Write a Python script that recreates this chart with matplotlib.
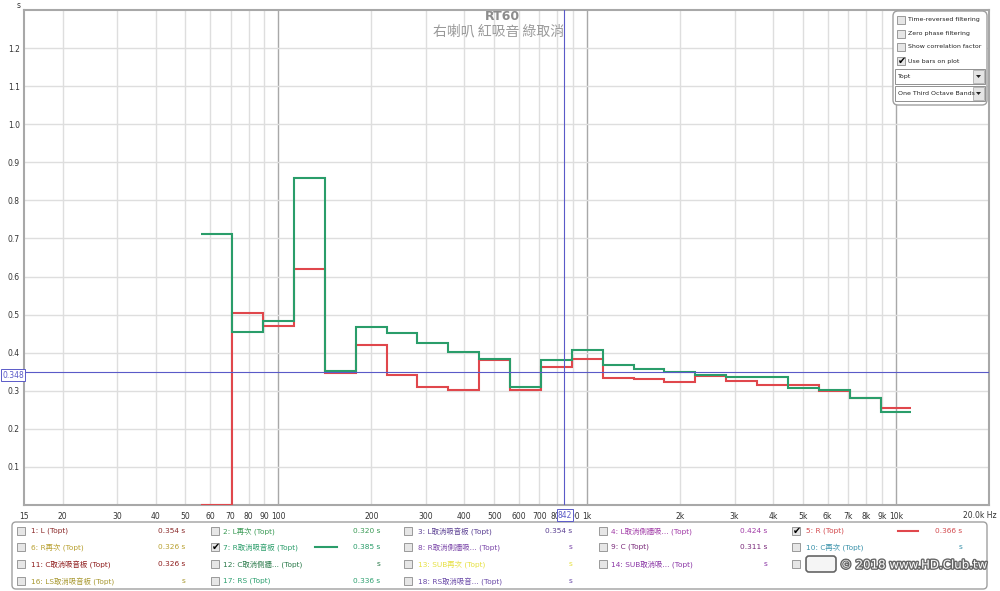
import numpy as np
import matplotlib
matplotlib.use("Agg")
import matplotlib.pyplot as plt
from matplotlib.patches import Rectangle, FancyBboxPatch, Polygon
from matplotlib.transforms import IdentityTransform
import matplotlib.patheffects as pe

plt.rcParams['font.family'] = ['DejaVu Sans', 'Noto Sans CJK TC']

# ---------------- data ----------------
band_centers_hz = [63, 80, 100, 125, 160, 200, 250, 315, 400, 500, 630, 800,
                   1000, 1250, 1600, 2000, 2500, 3150, 4000, 5000, 6300, 8000, 10000]
rt60_red = [0.0, 0.505, 0.471, 0.619, 0.346, 0.419, 0.341, 0.309, 0.303, 0.381,
            0.303, 0.363, 0.384, 0.334, 0.332, 0.323, 0.339, 0.325, 0.316, 0.316,
            0.300, 0.280, 0.254]
rt60_green = [0.711, 0.455, 0.482, 0.859, 0.353, 0.467, 0.451, 0.425, 0.401, 0.383,
              0.309, 0.382, 0.408, 0.367, 0.356, 0.349, 0.341, 0.337, 0.337, 0.306,
              0.302, 0.280, 0.244]
cursor_value = 0.348
cursor_freq = 842

x_ticks = [15, 20, 30, 40, 50, 60, 70, 80, 90, 100, 200, 300, 400, 500, 600, 700, 800, 900,
           1000, 2000, 3000, 4000, 5000, 6000, 7000, 8000, 9000, 10000]
x_tick_labels = ['15', '20', '30', '40', '50', '60', '70', '80', '90', '100', '200', '300',
                 '400', '500', '600', '700', '800', '900', '1k', '2k', '3k', '4k', '5k', '6k',
                 '7k', '8k', '9k', '10k']
x_end_label = '20.0k Hz'
y_ticks = [0.1, 0.2, 0.3, 0.4, 0.5, 0.6, 0.7, 0.8, 0.9, 1.0, 1.1, 1.2]

legend_labels = [
    ['1: L (Topt)', '2: L再次 (Topt)', '3: L取消吸音板 (Topt)', '4: L取消側牆吸... (Topt)', '5: R (Topt)'],
    ['6: R再次 (Topt)', '7: R取消吸音板 (Topt)', '8: R取消側牆吸... (Topt)', '9: C (Topt)', '10: C再次 (Topt)'],
    ['11: C取消吸音板 (Topt)', '12: C取消側牆... (Topt)', '13: SUB再次 (Topt)', '14: SUB取消吸... (Topt)', ''],
    ['16: LS取消吸音板 (Topt)', '17: RS (Topt)', '18: RS取消吸音... (Topt)', None, None],
]
legend_values = [
    ['0.354 s', '0.320 s', '0.354 s', '0.424 s', '0.366 s'],
    ['0.326 s', '0.385 s', 's', '0.311 s', 's'],
    ['0.326 s', 's', 's', 's', ''],
    ['s', '0.336 s', 's', None, None],
]
legend_colors = [
    ['#8b2a2a', '#3a9a55', '#5a3f92', '#a03aa6', '#d34a4e'],
    ['#b8a030', '#2a9d6a', '#7a45a8', '#7a2a7a', '#3a92aa'],
    ['#8e1c1c', '#2a7a4a', '#e6e040', '#8a35a5', '#888888'],
    ['#a89830', '#2ea070', '#6a4aa8', None, None],
]
legend_checked = [(0, 4), (1, 1)]
legend_lines = {(0, 4): '#e0474c', (1, 1): '#2a9d6a'}

RED = '#e0474c'
GREEN = '#2a9d6a'
BLUE = '#5a5ac8'

# ---------------- figure ----------------
W, H = 1000, 591
fig = plt.figure(figsize=(W / 100, H / 100), dpi=100)
fig.patch.set_facecolor('white')

def fx(px):
    return px / W

def fy(py):
    return 1 - py / H

ax_l, ax_r, ax_t, ax_b = 24, 989, 10, 505
ax = fig.add_axes([fx(ax_l), fy(ax_b), (ax_r - ax_l) / W, (ax_b - ax_t) / H])
ax.set_xscale('log')
ax.set_xlim(15, 20000)
ax.set_ylim(0, 1.3)

# band edges from the nominal 1/3-octave band indices
n_idx = np.round(10 * np.log10(np.array(band_centers_hz) / 1000.0))
edges = 1000.0 * 10 ** (np.append(n_idx - 0.5, n_idx[-1] + 0.5) / 10)

# grid
for f in x_ticks[1:]:
    dec = f in (100, 1000, 10000)
    ax.axvline(f, color='#a8a8a8' if dec else '#dedede', lw=1.0, zorder=0)
for v in y_ticks:
    ax.axhline(v, color='#dedede', lw=1.0, zorder=0)

ax.stairs(rt60_red, edges, baseline=None, color=RED, lw=1.5, zorder=3)
ax.stairs(rt60_green, edges, baseline=None, color=GREEN, lw=1.5, zorder=4)

ax.axhline(cursor_value, color=BLUE, lw=0.8, zorder=5)
ax.axvline(cursor_freq, color=BLUE, lw=0.8, zorder=5)

ax.set_xticks(x_ticks)
ax.set_xticklabels(x_tick_labels)
ax.xaxis.set_minor_locator(matplotlib.ticker.NullLocator())
ax.set_yticks(y_ticks)
ax.set_yticklabels([f'{v:.1f}' for v in y_ticks])
ax.tick_params(axis='both', length=0, labelsize=5.5, colors='#333333')
ax.tick_params(axis='x', pad=5)
ax.tick_params(axis='y', pad=3)
for s in ax.spines.values():
    s.set_color('#a8a8a8')
    s.set_linewidth(1.5)

fig.text(fx(997), fy(516), x_end_label, fontsize=5.5, color='#333333', ha='right', va='center')
fig.text(fx(19), fy(5), 's', fontsize=5.5, color='#333333', ha='center', va='center')

# cursor labels
fig.text(fx(13), fy(375), '0.348', fontsize=5.5, color=BLUE, ha='center', va='center',
         bbox=dict(boxstyle='square,pad=0.15', fc='white', ec=BLUE, lw=0.7), zorder=10)
fig.text(fx(565), fy(515), '842', fontsize=5.5, color=BLUE, ha='center', va='center',
         bbox=dict(boxstyle='square,pad=0.15', fc='white', ec=BLUE, lw=0.7), zorder=10)

# titles
fig.text(0.502, fy(16), 'RT60', fontsize=9, fontweight='bold', color='#8c8c8c',
         ha='center', va='center')
fig.text(0.499, fy(31), '右喇叭 紅吸音 綠取消', fontsize=10, color='#9a9a9a',
         ha='center', va='center', family=['Noto Sans CJK TC', 'DejaVu Sans'])

T = IdentityTransform()

def prect(x0, y0, x1, y1, **kw):
    return Rectangle((x0, H - y1), x1 - x0, y1 - y0, transform=T, **kw)

def checkbox(x0, yc, checked=False):
    fig.add_artist(prect(x0, yc - 4, x0 + 8, yc + 4, fc='#e6e6e6', ec='#8c8c8c', lw=0.6))
    if checked:
        fig.text(fx(x0 + 4.5), fy(yc), '✔', fontsize=7, color='black',
                 ha='center', va='center')

# top-right options panel
fig.add_artist(FancyBboxPatch((893, H - 105), 94, 94, boxstyle='round,pad=0,rounding_size=5',
                              transform=T, fc='white', ec='#a0a0a0', lw=1.0))
opts = ['Time-reversed filtering', 'Zero phase filtering', 'Show correlation factor', 'Use bars on plot']
for i, (t, yy) in enumerate(zip(opts, [20, 34, 47, 61])):
    checkbox(897, yy, checked=(i == 3))
    fig.text(fx(908), fy(yy), t, fontsize=4.5, color='#222222', ha='left', va='center')
for t, (y0, y1) in zip(['Topt', 'One Third Octave Bands'], [(69, 84), (86, 101)]):
    fig.add_artist(prect(895, y0, 985, y1, fc='white', ec='#909090', lw=0.7))
    fig.add_artist(prect(973, y0 + 1, 984, y1 - 1, fc='#e4e4e4', ec='#a0a0a0', lw=0.5))
    yc = (y0 + y1) / 2
    fig.add_artist(Polygon([[976, H - yc + 1.5], [981, H - yc + 1.5], [978.5, H - yc - 1.5]],
                           closed=True, transform=T, fc='#222222', ec='none'))
    fig.text(fx(898), fy(yc), t, fontsize=4.5, color='#222222', ha='left', va='center')

# bottom legend panel
fig.add_artist(FancyBboxPatch((12, H - 589), 975, 67, boxstyle='round,pad=0,rounding_size=4',
                              transform=T, fc='white', ec='#a0a0a0', lw=1.0))
cb_x = [17, 211, 404, 599, 792]
tx_x = [31, 223, 418, 611, 806]
val_x = [185, 380, 572, 767, 962]
line_x = {1: (315, 337), 4: (898, 918)}
row_y = [531, 547, 564, 581]
for r in range(4):
    for c in range(5):
        lab = legend_labels[r][c]
        if lab is None:
            continue
        yc = row_y[r]
        checkbox(cb_x[c], yc, checked=(r, c) in legend_checked)
        col = legend_colors[r][c]
        if lab:
            fig.text(fx(tx_x[c]), fy(yc), lab, fontsize=5.3, color=col, ha='left', va='center')
        if legend_values[r][c]:
            fig.text(fx(val_x[c]), fy(yc), legend_values[r][c], fontsize=5.3, color=col,
                     ha='right', va='center')
        if (r, c) in legend_lines:
            x0, x1 = line_x[c]
            fig.add_artist(plt.Line2D([x0, x1], [H - yc, H - yc], transform=T,
                                      color=legend_lines[(r, c)], lw=1.5))

# watermark
fig.add_artist(FancyBboxPatch((806, H - 572), 30, 16, boxstyle='round,pad=0,rounding_size=3',
                              transform=T, fc='#f4f4f4', ec='#555555', lw=1.2, alpha=0.9))
fig.text(fx(840), fy(565), '© 2018 www.HD.Club.tw', fontsize=8.5, color='white',
         ha='left', va='center',
         path_effects=[pe.withStroke(linewidth=2, foreground='#666666')])

fig.savefig('out.png', dpi=100)
